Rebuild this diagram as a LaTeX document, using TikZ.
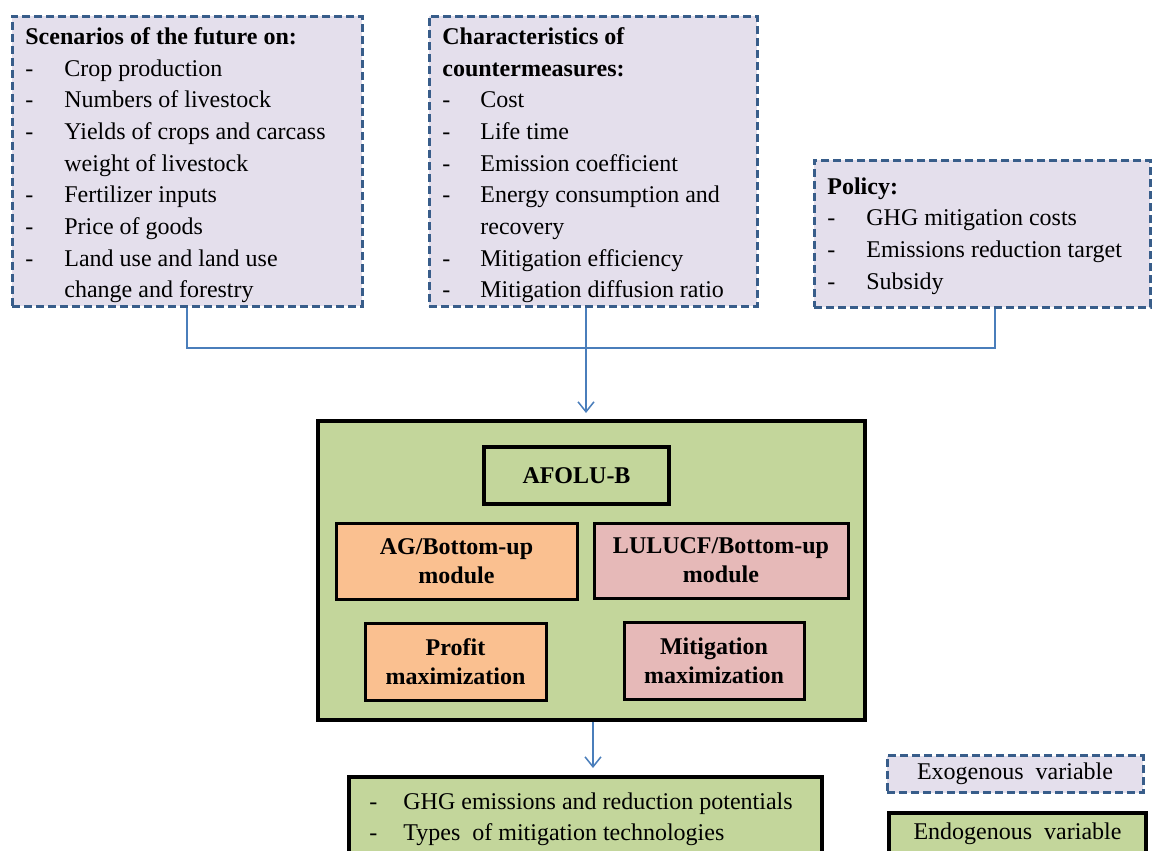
\documentclass[tikz,border=0pt]{standalone}
\usepackage{fontspec}
\setmainfont{Liberation Serif}
\usetikzlibrary{arrows.meta,fit,calc}

\definecolor{exoline}{RGB}{56,93,138}
\definecolor{exofill}{RGB}{228,223,236}
\definecolor{endofill}{RGB}{195,214,155}
\definecolor{agfill}{RGB}{250,192,144}
\definecolor{lufill}{RGB}{230,185,184}
\definecolor{connblue}{RGB}{74,126,187}

% list entries: a dash, then the text at a fixed indent
\newcommand\itm[2][19.5pt]{\makebox[#1][l]{-}#2}
\newcommand\cont[2][19.5pt]{\hspace*{#1}#2}

\begin{document}
\begin{tikzpicture}[x=0.5pt,y=-0.5pt,
  exo/.style={draw=exoline, line width=1.5pt, dash pattern=on 4pt off 2pt,
    fill=exofill, inner sep=0pt},
  endo/.style={draw=black, line width=1.75pt, fill=endofill, inner sep=0pt},
  module/.style={draw=black, line width=1.5pt, inner sep=0pt, align=center,
    font=\bfseries\fontsize{12}{14.5}\selectfont},
  listtext/.style={anchor=north west, inner sep=0pt, align=left,
    font=\fontsize{12}{15.85}\selectfont},
  legendtext/.style={font=\fontsize{12}{15}\selectfont},
  conn/.style={draw=connblue, line width=0.75pt},
  flowtip/.style={-{Straight Barb[length=5pt,width=8pt,line width=0.75pt]}}
]
\useasboundingbox (0,0) rectangle (1153,851);
\clip (0,0) rectangle (1153,851);

% exogenous inputs
\node[exo, fit={(12,16) (362,306)}] (scen) {};
\node[listtext] (scentext) at (25,27) {%
  \textbf{Scenarios of the future on:}\\
  \itm{Crop production}\\
  \itm{Numbers of livestock}\\
  \itm{Yields of crops and carcass}\\
  \cont{weight of livestock}\\
  \itm{Fertilizer inputs}\\
  \itm{Price of goods}\\
  \itm{Land use and land use}\\
  \cont{change and forestry}};

\node[exo, fit={(429,16) (757,306)}] (cm) {};
\node[listtext] (cmtext) at (442,27) {%
  \textbf{Characteristics of}\\
  \textbf{countermeasures:}\\
  \itm[19pt]{Cost}\\
  \itm[19pt]{Life time}\\
  \itm[19pt]{Emission coefficient}\\
  \itm[19pt]{Energy consumption and}\\
  \cont[19pt]{recovery}\\
  \itm[19pt]{Mitigation efficiency}\\
  \itm[19pt]{Mitigation diffusion ratio}};

\node[exo, fit={(814,160) (1150,307)}] (policy) {};
\node[listtext] (policytext) at (827,177) {%
  \textbf{Policy:}\\
  \itm{GHG mitigation costs}\\
  \itm{Emissions reduction target}\\
  \itm{Subsidy}};

% model block
\node[endo, fit={(318,421) (865,720)}] (afolu) {};
\node[module, line width=2pt, fill=endofill, minimum width=92.5pt, minimum height=28.5pt]
  (afolub) at (576.5,475.5) {AFOLU-B};
\node[module, fill=agfill, minimum width=120.5pt, minimum height=38pt]
  (agmod) at (456.5,561) {AG/Bottom-up\\module};
\node[module, fill=lufill, minimum width=127pt, minimum height=37.5pt]
  (lumod) at (721,560.5) {LULUCF/Bottom-up\\module};
\node[module, fill=agfill, minimum width=90.5pt, minimum height=38.5pt]
  (profit) at (455.5,661.5) {Profit\\maximization};
\node[module, fill=lufill, minimum width=90pt, minimum height=38.5pt]
  (mitig) at (714,660.5) {Mitigation\\maximization};

% outputs
\node[endo, fit={(349,777) (822,860)}] (out) {};
\node[listtext] (outtext) at (369,792) {%
  \itm[17pt]{GHG emissions and reduction potentials}\\
  \itm[17pt]{Types\ \ of mitigation technologies}};

% legend
\node[exo, legendtext, minimum width=128pt, minimum height=18.5pt]
  (legexo) at (1015,774) {Exogenous\ \ variable};
\node[endo, legendtext, minimum width=128.5pt, minimum height=20.5pt]
  (legendo) at (1017.5,833.5) {Endogenous\ \ variable};

% connectors
\coordinate (hub) at (586,348);
\coordinate (pjoin) at (995,348);
\coordinate (intip) at (586,413);
\coordinate (outtip) at (593,768);
\draw[conn] (scen.south) |- (pjoin) -- (pjoin |- policy.south);
\draw[conn, flowtip] (hub |- cm.south) -- (intip);
\draw[conn, flowtip] (outtip |- afolu.south) -- (outtip);
\end{tikzpicture}
\end{document}
